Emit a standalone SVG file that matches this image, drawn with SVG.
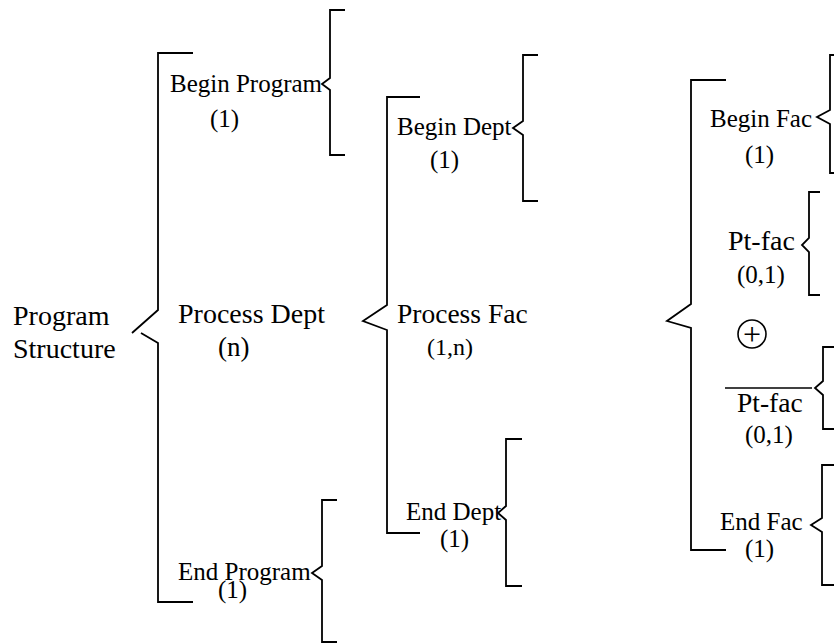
<svg xmlns="http://www.w3.org/2000/svg" width="834" height="644" viewBox="0 0 834 644">
<style>
text{font-family:"Liberation Serif","Times New Roman",serif;fill:#000;font-size:25px}
.big{font-size:28px}
.br{fill:none;stroke:#000;stroke-width:1.8;stroke-linejoin:miter}
</style>
<rect width="834" height="644" fill="#fff"/>
<g id="connectors">
<path class="br" d="M193,53 H158 V310 L132,333 M141,333 L158,343 V602 H193"/>
<path class="br" d="M345,10 H330 V78 L322,84 L330,90 V155 H345"/>
<path class="br" d="M420,97 H387 V305 L363,321 L387,330 V533 H420"/>
<path class="br" d="M538,55 H523 V121 L513,128 L523,135 V201 H538"/>
<path class="br" d="M337,500 H322 V566 L312,573 L322,580 V642 H337"/>
<path class="br" d="M522,439 H506 V506 L498,513 L506,520 V586 H522"/>
<path class="br" d="M726,80 H691 V304 L667,321 L691,328 V550 H726"/>
<path class="br" d="M834,55 H830 V110 L817,117 L830,124 V173 H834"/>
<path class="br" d="M820,192 H809 V238 L802,245 L809,252 V295 H820"/>
<path class="br" d="M834,347 H823 V381 L815,388 L823,395 V429 H834"/>
<path class="br" d="M834,465 H822 V518 L811,525 L822,532 V585 H834"/>
</g>
<g id="program-structure">
<text class="big" x="13" y="325">Program</text>
<text class="big" x="13" y="358">Structure</text>
</g>
<g id="begin-program">
<text x="170" y="92">Begin Program</text>
<text x="210" y="127">(1)</text>
</g>
<g id="process-dept">
<text class="big" x="178" y="323">Process Dept</text>
<text x="218" y="356" style="font-size:27px">(n)</text>
</g>
<g id="end-program">
<text x="178" y="580">End Program</text>
<text x="218" y="598">(1)</text>
</g>
<g id="begin-dept">
<text x="397" y="135">Begin Dept</text>
<text x="430" y="168">(1)</text>
</g>
<g id="process-fac">
<text x="397" y="323" style="font-size:27.5px">Process Fac</text>
<text x="427" y="355" style="font-size:24px">(1,n)</text>
</g>
<g id="end-dept">
<text x="406" y="520">End Dept</text>
<text x="440" y="547">(1)</text>
</g>
<g id="begin-fac">
<text x="710" y="127">Begin Fac</text>
<text x="745" y="163">(1)</text>
</g>
<g id="pt-fac">
<text class="big" x="728" y="250">Pt-fac</text>
<text x="737" y="283">(0,1)</text>
</g>
<g id="xor">
<circle cx="752" cy="334" r="14" fill="none" stroke="#000" stroke-width="1.6"/>
<text x="752" y="345" text-anchor="middle" style="font-size:32px">+</text>
</g>
<g id="not-pt-fac">
<line x1="725" y1="388" x2="812" y2="388" stroke="#000" stroke-width="1.6"/>
<text x="737" y="412" style="font-size:27.5px">Pt-fac</text>
<text x="745" y="443">(0,1)</text>
</g>
<g id="end-fac">
<text x="720" y="530">End Fac</text>
<text x="745" y="557">(1)</text>
</g>
</svg>
